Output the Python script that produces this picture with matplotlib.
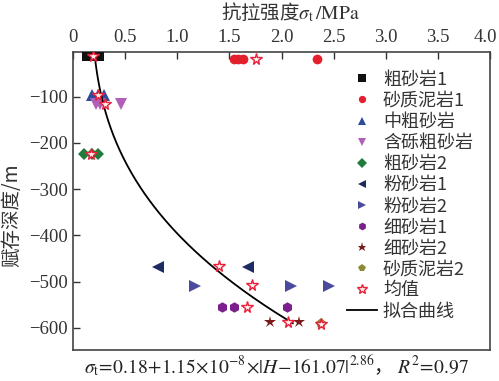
import numpy as np
import matplotlib
matplotlib.use('Agg')
import matplotlib.pyplot as plt
from matplotlib.lines import Line2D

plt.rcParams['font.family'] = ['Noto Sans CJK SC', 'DejaVu Sans']
plt.rcParams['mathtext.fontset'] = 'stix'
plt.rcParams['axes.unicode_minus'] = True

# rock groups: (label, x values, depth)
names = ['粗砂岩1', '砂质泥岩1', '中粗砂岩', '含砾粗砂岩', '粗砂岩2',
         '粉砂岩1', '粉砂岩2', '细砂岩1', '细砂岩2', '砂质泥岩2']
sig_vals = [
    [0.13, 0.17, 0.21, 0.25],
    [1.54, 1.58, 1.63, 2.34],
    [0.18, 0.24, 0.30],
    [0.22, 0.26, 0.46],
    [0.11, 0.18, 0.24],
    [0.82, 1.68],
    [1.17, 2.09, 2.46],
    [1.43, 1.54, 2.05],
    [1.885, 2.17],
    [2.38],
]
depths = [-12, -19, -97, -116, -223, -469, -509, -554, -588, -592]

mean_x = [0.195, 1.76, 0.24, 0.31, 0.175, 1.40, 1.72, 1.67, 2.06, 2.38]
mean_y = [-12, -19, -97, -116, -223, -466, -508, -554, -588, -592]

# fit: sigma = a + b*|H - c|^n  (H negative depth)
fit_a, fit_b, fit_c, fit_n = 0.18, 1.15e-8, 161.07, 2.86
fit_top, fit_bottom = -10, -590

xticks = [0, 0.5, 1.0, 1.5, 2.0, 2.5, 3.0, 3.5, 4.0]
xticklabels = ['0', '0.5', '1.0', '1.5', '2.0', '2.5', '3.0', '3.5', '4.0']
yticks = [-600, -500, -400, -300, -200, -100]

markers = ['s', 'o', '^', 'v', 'D', '<', '>', 'h', '*', 'p']
colors = ['#111111', '#e3202b', '#2b4c9b', '#b15fb9', '#1f7c3c',
          '#1e2a62', '#4b4b9d', '#7b1f8c', '#7a1b1b', '#8d8a35']
msizes = [7, 7, 8, 8, 6.5, 8, 8, 7.5, 9, 8]

fig = plt.figure(figsize=(4.99, 3.81), dpi=100)
ax = fig.add_axes([0.1463, 0.0814, 0.8357, 0.7822])

handles = []
for nm, xv, d, mk, c, ms in zip(names, sig_vals, depths, markers, colors, msizes):
    ax.plot(xv, [d] * len(xv), linestyle='none', marker=mk, color=c,
            markersize=ms, markeredgewidth=0, zorder=3)
    handles.append(Line2D([], [], linestyle='none', marker=mk, color=c,
                          markersize=ms * 0.75, markeredgewidth=0, label=nm))

ax.plot(mean_x, mean_y, linestyle='none', marker='*', markersize=8.5,
        markerfacecolor='#fff0f0', markeredgecolor='#e8203a',
        markeredgewidth=1.0, zorder=5)
handles.append(Line2D([], [], linestyle='none', marker='*', markersize=7,
                      markerfacecolor='#fff0f0', markeredgecolor='#e8203a',
                      markeredgewidth=1.0, label='均值'))

H = np.linspace(fit_top, fit_bottom, 300)
sig = fit_a + fit_b * np.abs(H - fit_c) ** fit_n
ax.plot(sig, H, color='black', lw=1.3, zorder=4)
handles.append(Line2D([], [], color='black', lw=1.3, label='拟合曲线'))

ax.set_xlim(0, 4.0)
ax.set_ylim(-648, -3)
ax.set_xticks(xticks)
# last label (4.0) drawn separately so it stays inside the figure
ax.set_xticklabels(xticklabels[:-1] + [''])
ax.set_yticks(yticks)
ax.set_yticklabels(['\u2212%d' % abs(v) for v in yticks])
ax.xaxis.tick_top()
ax.tick_params(axis='both', direction='in', length=5, width=1.0, color='#333333',
               labelsize=13.5, pad=4)
ax.tick_params(axis='x', pad=4)
for lab in ax.get_xticklabels() + ax.get_yticklabels():
    lab.set_fontfamily('Liberation Serif')
    lab.set_color('#333333')
ax.annotate(xticklabels[-1], xy=(xticks[-1], 1), xycoords=('data', 'axes fraction'),
            xytext=(-3, 4), textcoords='offset points', ha='center', va='bottom',
            fontsize=13.5, family='Liberation Serif', color='#333333',
            annotation_clip=False)
for sp in ax.spines.values():
    sp.set_color('#444444')
    sp.set_linewidth(1.2)

fig.text(290 / 499, 1 - 13 / 381, '抗拉强度$\\sigma_\\mathrm{t}\\,/\\mathrm{MPa}$',
         ha='center', va='center', fontsize=14, color='#333333')
fig.text(12 / 499, 1 - 215 / 381, '赋存深度/m', rotation=90,
         ha='center', va='center', fontsize=14, color='#333333')
fig.text(276 / 499, 1 - 366 / 381,
         r'$\sigma_\mathrm{t}\!=\!0.18\!+\!1.15\!\times\!10^{-8}\!\times\!|H\!-\!161.07|^{2.86}$，'
         r' $R^2\!=\!0.97$',
         ha='center', va='center', fontsize=14, color='#222222')

leg = ax.legend(handles=handles, loc='upper left', bbox_to_anchor=(0.657, 0.937),
                frameon=False, fontsize=13, labelspacing=0.17, handlelength=1.66,
                handletextpad=0.33, borderpad=0, borderaxespad=0)
for t in leg.get_texts():
    t.set_color('#333333')

fig.savefig('out.png', dpi=100)
